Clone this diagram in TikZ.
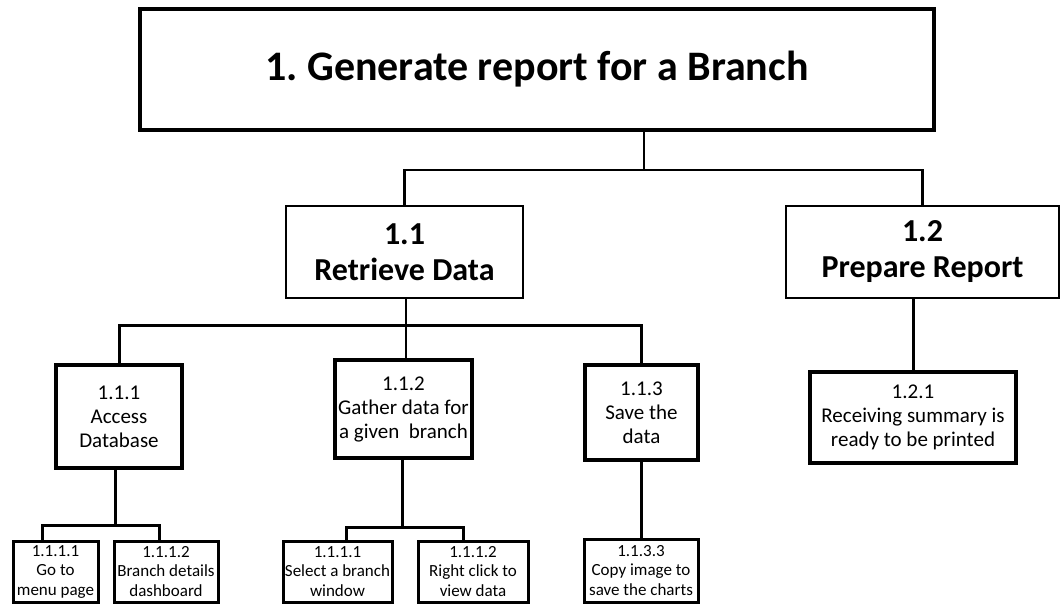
\documentclass[tikz,border=0pt]{standalone}
\usepackage{fontspec}
\setmainfont{Carlito}
\begin{document}
\begin{tikzpicture}[x=1pt,y=-1pt]
		\tikzstyle{every node}+=[inner sep=0pt, align=center]
		\tikzstyle{mainbox}=[draw=black, line width=4.5pt, font=\bfseries\fontsize{42}{48}\selectfont]
		\tikzstyle{subbox}=[draw=black, line width=2.5pt, font=\bfseries\fontsize{32}{36}\selectfont]
		\tikzstyle{taskbox}=[draw=black, line width=3.2pt, font=\fontsize{21}{24}\selectfont]
		\tikzstyle{stepbox}=[draw=black, line width=3pt, font=\fontsize{17}{19.5}\selectfont]
		\tikzstyle{link}=[black, line width=2.5pt]
		\tikzstyle{thicklink}=[black, line width=3pt]
		\useasboundingbox (0,0) rectangle (1060,605);
		\node [mainbox, minimum width=794, minimum height=121] (gen) at (537,69.5) {1.\ Generate report for a Branch};
		\node [subbox, minimum width=237, minimum height=92] (ret) at (404.5,252) {1.1\\Retrieve Data};
		\node [subbox, minimum width=273, minimum height=92] (prep) at (922.5,252) {1.2\\Prepare Report};
		\node [taskbox, minimum width=126, minimum height=103] (acc) at (119,416.5) {1.1.1\\Access\\Database};
		\node [taskbox, minimum width=137, minimum height=98] (gat) at (403.5,409) {1.1.2\\Gather data for\\a given\ \ branch};
		\node [taskbox, minimum width=113, minimum height=95] (sav) at (641.5,412.5) {1.1.3\\Save the\\data};
		\node [taskbox, minimum width=206, minimum height=91] (recv) at (913,417.5) {1.2.1\\Receiving summary is\\ready to be printed};
		\node [stepbox, minimum width=85, minimum height=61] (menu) at (55.5,571.5) {1.1.1.1\\Go to\\menu page};
		\node [stepbox, minimum width=104, minimum height=61] (dash) at (166,571.5) {1.1.1.2\\Branch details\\dashboard};
		\node [stepbox, minimum width=109, minimum height=61] (sel) at (337.5,571.5) {1.1.1.1\\Select a branch\\window};
		\node [stepbox, minimum width=110, minimum height=61] (view) at (473,571.5) {1.1.1.2\\Right click to\\view data};
		\node [stepbox, minimum width=114, minimum height=63] (copy) at (641,570.5) {1.1.3.3\\Copy image to\\save the charts};
		\coordinate (bus1) at (644,170);
		\draw [link] (gen.south -| bus1) -- (bus1);
		\draw [link] (ret.north) |- (bus1) -| (prep.north);
		\coordinate (bus2) at (406,325);
		\draw [link] (ret.south -| bus2) -- (bus2);
		\draw [thicklink] (acc.north) |- (bus2) -| (sav.north);
		\draw [link] (gat.north -| bus2) -- (bus2);
		\coordinate (bus3) at (115,525);
		\draw [thicklink] (acc.south -| bus3) -- (bus3);
		\draw [thicklink] ([xshift=-13.5]menu.north) |- (bus3) -| ([xshift=-7]dash.north);
		\coordinate (bus4) at (402,527);
		\draw [thicklink] (gat.south -| bus4) -- (bus4);
		\draw [thicklink] ([xshift=8.5]sel.north) |- (bus4) -| ([xshift=-10]view.north);
		\draw [thicklink] (sav.south -| copy.north) -- (copy.north);
		\draw [thicklink] (prep.south -| recv.north) -- (recv.north);
	\end{tikzpicture}
\end{document}
